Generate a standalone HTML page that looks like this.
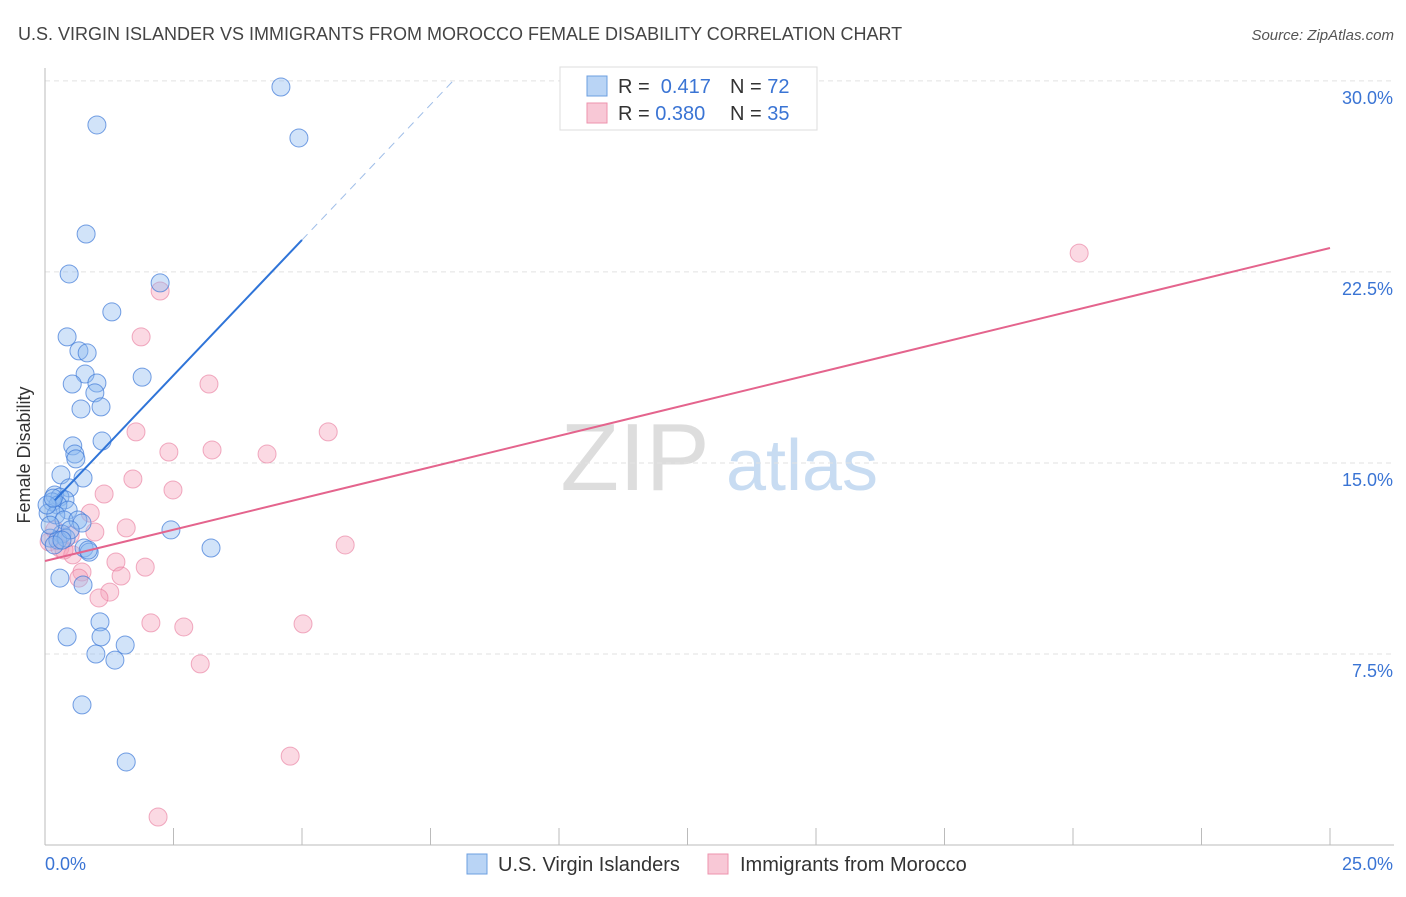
<!DOCTYPE html>
<html><head><meta charset="utf-8"><style>
body{margin:0;background:#fff;font-family:"Liberation Sans",sans-serif}
svg text{font-family:"Liberation Sans",sans-serif}
</style></head><body>
<svg id="c" width="1406" height="892" viewBox="0 0 1406 892">
<text x="18" y="40" font-size="18" fill="#444">U.S. VIRGIN ISLANDER VS IMMIGRANTS FROM MOROCCO FEMALE DISABILITY CORRELATION CHART</text>
<text x="1394" y="40" font-size="15" fill="#555" font-style="italic" text-anchor="end">Source: ZipAtlas.com</text>
<g><text x="635" y="490" font-size="96" fill="#ddd" font-family="Liberation Serif" text-anchor="middle">ZIP</text><text x="802" y="490" font-size="72" fill="#c8dcf2" text-anchor="middle">atlas</text></g>
<g id="grid"></g><g id="axes"></g><g id="pts"></g><g id="lines"></g>
<text x="30" y="455" font-size="18" fill="#333" text-anchor="middle" transform="rotate(-90 30 455)">Female Disability</text>
<g>
<rect x="560" y="67" width="257" height="63" fill="#fff" stroke="#ddd"/>
<rect x="587" y="76" width="20" height="20" fill="#b9d4f5" stroke="#6c9fe0"/>
<rect x="587" y="103" width="20" height="20" fill="#f8c8d6" stroke="#ee93ae"/>
<text x="618" y="93" font-size="20" fill="#333">R = <tspan fill="#3a74d4">&#160;0.417</tspan><tspan x="730">N = </tspan><tspan fill="#3a74d4">72</tspan></text>
<text x="618" y="120" font-size="20" fill="#333">R = <tspan fill="#3a74d4">0.380</tspan><tspan x="730">N = </tspan><tspan fill="#3a74d4">35</tspan></text>
</g>
<g>
<rect x="467" y="854" width="20" height="20" fill="#b9d4f5" stroke="#6c9fe0"/>
<text x="498" y="871" font-size="20" fill="#333">U.S. Virgin Islanders</text>
<rect x="708" y="854" width="20" height="20" fill="#f8c8d6" stroke="#ee93ae"/>
<text x="740" y="871" font-size="20" fill="#333">Immigrants from Morocco</text>
</g>
</svg>
<script>
const xTicks=[0,2.5,5,7.5,10,12.5,15,17.5,20,22.5,25];
const yTicks=[7.5,15,22.5,30];
const yTickLabels=["7.5%","15.0%","22.5%","30.0%"];
const blueX=[4.59,1.01,4.94,0.80,0.47,2.24,1.30,0.43,0.66,0.82,1.89,0.78,0.53,1.01,0.97,1.09,0.70,1.11,0.54,0.58,0.60,0.31,0.74,0.47,0.19,0.29,0.39,0.14,0.25,0.45,0.06,0.21,0.37,0.64,0.72,2.45,0.33,0.10,0.25,0.41,0.76,0.86,3.23,0.29,0.74,1.07,0.43,1.09,1.56,0.99,1.36,0.72,1.58,0.10,0.49,0.18,0.33,0.84,0.04,0.16];
const blueY=[29.76,28.27,27.76,23.99,22.42,22.07,20.93,19.95,19.40,19.32,18.37,18.49,18.10,18.14,17.75,17.20,17.12,15.86,15.67,15.35,15.16,14.53,14.41,14.02,13.74,13.66,13.55,13.47,13.35,13.15,13.03,12.96,12.76,12.76,12.64,12.37,12.21,12.05,11.97,12.05,11.66,11.50,11.66,10.48,10.21,8.76,8.17,8.17,7.85,7.50,7.26,5.50,3.26,12.56,12.37,11.78,11.97,11.58,13.35,13.62];
const pinkX=[20.12,2.24,1.87,3.19,1.77,5.51,2.41,3.25,4.32,1.71,2.49,1.15,0.88,1.58,0.97,0.08,0.29,0.54,1.38,1.95,0.72,1.48,0.66,1.26,1.05,2.06,2.70,5.02,5.84,3.02,4.77,2.20,0.19,0.49,0.37];
const pinkY=[23.24,21.75,19.95,18.10,16.22,16.22,15.43,15.51,15.35,14.37,13.94,13.78,13.03,12.45,12.29,11.90,11.66,11.39,11.11,10.91,10.72,10.56,10.48,9.93,9.70,8.72,8.56,8.68,11.78,7.11,3.49,1.10,12.37,12.17,11.58];
const blueFit=[13.13,2.125];
const pinkFit=[11.15,0.4916];
const X=v=>45+v*51.4, Y=v=>845-v*25.47;
const NS="http://www.w3.org/2000/svg";
function mk(p,t,a){const e=document.createElementNS(NS,t);for(const k in a)e.setAttribute(k,a[k]);p.appendChild(e);return e;}
const grid=document.getElementById('grid'),axes=document.getElementById('axes'),pts=document.getElementById('pts'),lines=document.getElementById('lines');
yTicks.forEach((t,i)=>{
 const g=mk(grid,'line',{x1:45,x2:1394,y1:Y(t),y2:Y(t),stroke:'#e2e2e2','stroke-dasharray':'5,4'});
 
 
 const l=mk(axes,'text',{x:1393,y:Y(t)+23,'font-size':18,fill:'#3a74d4','text-anchor':'end'});l.textContent=yTickLabels[i];
 
 
});
const ax=mk(axes,'line',{x1:45,x2:1394,y1:845,y2:845,stroke:'#bbb'});


const ay=mk(axes,'line',{x1:45,x2:45,y1:68,y2:845,stroke:'#bbb'});


xTicks.forEach(t=>{
 const k=mk(axes,'line',{x1:X(t),x2:X(t),y1:828,y2:845,stroke:'#bbb'});
 
 
});
const xl0=mk(axes,'text',{x:45,y:870,'font-size':18,fill:'#3a74d4'});xl0.textContent=xTicks[0].toFixed(1)+'%';


const xl1=mk(axes,'text',{x:1393,y:870,'font-size':18,fill:'#3a74d4','text-anchor':'end'});xl1.textContent=xTicks[xTicks.length-1].toFixed(1)+'%';


pinkX.forEach((v,i)=>{
 const c=mk(pts,'circle',{cx:X(v),cy:Y(pinkY[i]),r:9,fill:'rgba(244,160,185,0.4)',stroke:'rgba(232,120,155,0.6)','stroke-width':1});
 
 
});
blueX.forEach((v,i)=>{
 const c=mk(pts,'circle',{cx:X(v),cy:Y(blueY[i]),r:9,fill:'rgba(140,185,240,0.4)',stroke:'rgba(60,120,215,0.7)','stroke-width':1});
 
 
});
const bEnd=5.0, bDash=(30-blueFit[0])/blueFit[1];
const b1=mk(lines,'line',{x1:X(0.19),y1:Y(blueFit[0]+blueFit[1]*0.19),x2:X(bEnd),y2:Y(blueFit[0]+blueFit[1]*bEnd),stroke:'#2f74d8','stroke-width':2});


const b2=mk(lines,'line',{x1:X(bEnd),y1:Y(blueFit[0]+blueFit[1]*bEnd),x2:X(bDash),y2:Y(30),stroke:'#9ebde8','stroke-width':1,'stroke-dasharray':'8,6'});


const p1=mk(lines,'line',{x1:X(0),y1:Y(pinkFit[0]),x2:X(25),y2:Y(pinkFit[0]+pinkFit[1]*25),stroke:'#e4648d','stroke-width':2});


</script>
</body></html>
